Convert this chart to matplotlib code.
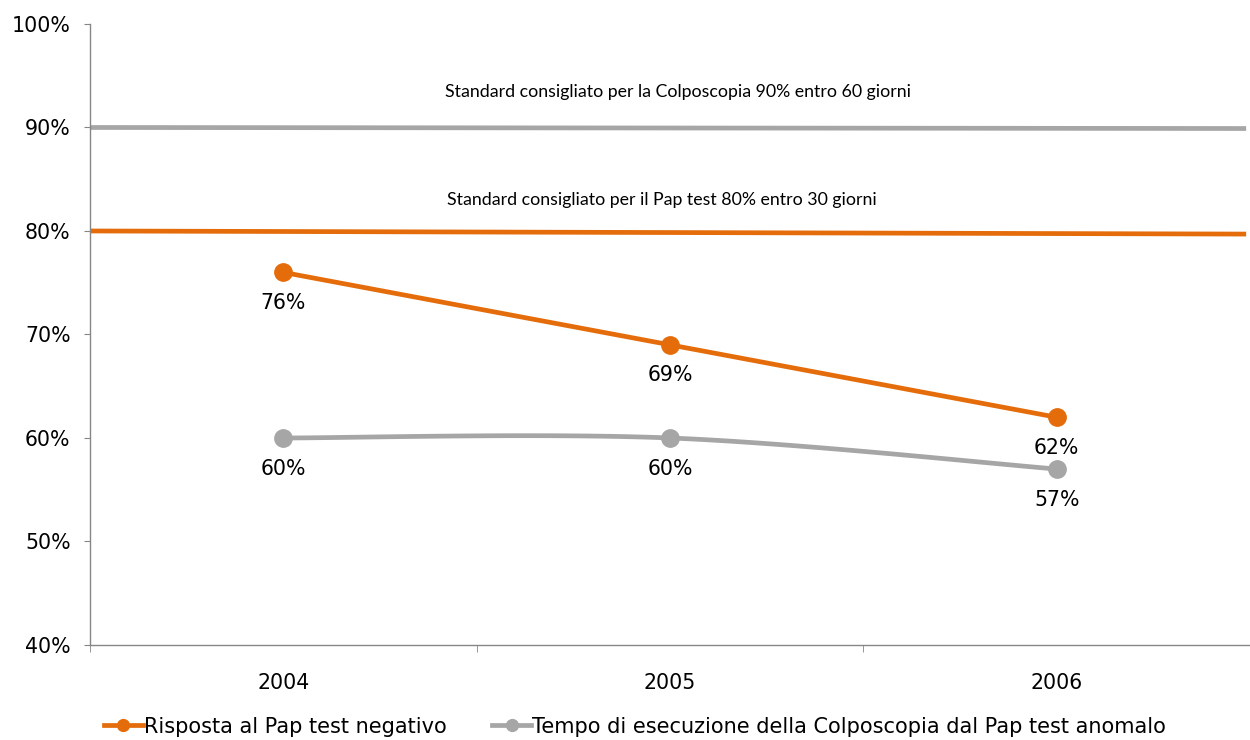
import numpy as np
import matplotlib
matplotlib.use("Agg")
import matplotlib.pyplot as plt
from matplotlib.lines import Line2D

years = ["2004", "2005", "2006"]
pap_negativo = [76, 69, 62]
colposcopia = [60, 60, 57]
std_pap = [80.0, 79.7]      # left / right end as read
std_colpo = [90.0, 89.9]
std_pap_text = "Standard consigliato per il Pap test 80% entro 30 giorni"
std_colpo_text = "Standard consigliato per la Colposcopia 90% entro 60 giorni"
series_names = ["Risposta al Pap test negativo",
                "Tempo di esecuzione della Colposcopia dal Pap test anomalo"]
yticks = [40, 50, 60, 70, 80, 90, 100]

ORANGE = "#E46C0A"
GRAY = "#A6A6A6"
AXIS = "#868686"


def catmull_rom(xs, ys, n=60):
    xs = np.asarray(xs, float)
    ys = np.asarray(ys, float)
    px = np.concatenate([[xs[0]], xs, [xs[-1]]])
    py = np.concatenate([[ys[0]], ys, [ys[-1]]])
    outx, outy = [], []
    t = np.linspace(0, 1, n)
    h00 = 2 * t**3 - 3 * t**2 + 1
    h10 = t**3 - 2 * t**2 + t
    h01 = -2 * t**3 + 3 * t**2
    h11 = t**3 - t**2
    for i in range(1, len(px) - 2):
        mx1 = (px[i + 1] - px[i - 1]) / 2
        my1 = (py[i + 1] - py[i - 1]) / 2
        mx2 = (px[i + 2] - px[i]) / 2
        my2 = (py[i + 2] - py[i]) / 2
        outx.append(h00 * px[i] + h10 * mx1 + h01 * px[i + 1] + h11 * mx2)
        outy.append(h00 * py[i] + h10 * my1 + h01 * py[i + 1] + h11 * my2)
    return np.concatenate(outx), np.concatenate(outy)


fig = plt.figure(figsize=(12.5, 7.4), dpi=100)
ax = fig.add_axes([0.072, 0.1284, 0.928, 0.8392])

x = np.arange(len(years))
ax.set_xlim(-0.5, len(years) - 0.5)
ax.set_ylim(40, 100)

LW = 3.4
MS = 12.5

# standard lines
ax.plot([-0.5, len(years) - 0.5 - 0.01], std_colpo, color=GRAY, lw=LW,
        solid_capstyle="butt", zorder=2)
ax.plot([-0.5, len(years) - 0.5 - 0.01], std_pap, color=ORANGE, lw=LW,
        solid_capstyle="butt", zorder=2)

ax.text(1.02, 93.4, std_colpo_text, ha="center", va="center",
        fontsize=12.8, family=["Lato", "DejaVu Sans"], color="black")
ax.text(0.98, 83.0, std_pap_text, ha="center", va="center",
        fontsize=12.8, family=["Lato", "DejaVu Sans"], color="black")

# series
sx, sy = catmull_rom(x, pap_negativo)
ax.plot(sx, sy, color=ORANGE, lw=LW, zorder=3)
ax.plot(x, pap_negativo, "o", color=ORANGE, ms=MS, zorder=4)
sx, sy = catmull_rom(x, colposcopia)
ax.plot(sx, sy, color=GRAY, lw=LW, zorder=3)
ax.plot(x, colposcopia, "o", color=GRAY, ms=MS, zorder=4)

for xi, v in zip(x, pap_negativo):
    ax.annotate(f"{v}%", (xi, v), xytext=(0, -22), textcoords="offset points",
                ha="center", va="center", fontsize=14.8)
for xi, v in zip(x, colposcopia):
    ax.annotate(f"{v}%", (xi, v), xytext=(0, -22), textcoords="offset points",
                ha="center", va="center", fontsize=14.8)

# axes styling
for s in ["top", "right"]:
    ax.spines[s].set_visible(False)
for s in ["left", "bottom"]:
    ax.spines[s].set_color(AXIS)
    ax.spines[s].set_linewidth(1.0)

ax.set_yticks(yticks)
ax.set_yticklabels([f"{v}%" for v in yticks], fontsize=14.8)
ax.tick_params(axis="y", length=4, color=AXIS, pad=10)

ax.set_xticks(x)
ax.set_xticklabels(years, fontsize=14.8)
ax.tick_params(axis="x", which="major", length=0, pad=20)
ax.set_xticks(np.arange(len(years) + 1) - 0.5, minor=True)
ax.tick_params(axis="x", which="minor", length=5, color=AXIS, direction="out")

handles = [Line2D([0], [0], color=ORANGE, lw=LW, marker="o", ms=8.5),
           Line2D([0], [0], color=GRAY, lw=LW, marker="o", ms=8.5)]
fig.legend(handles, series_names, loc="lower center", bbox_to_anchor=(0.508, -0.021),
           ncol=2, frameon=False, handlelength=1.85, handletextpad=0.05,
           columnspacing=2.2,
           prop={"family": ["DejaVu Sans Condensed", "DejaVu Sans"], "size": 15.0})

fig.savefig("out.png", dpi=100)
